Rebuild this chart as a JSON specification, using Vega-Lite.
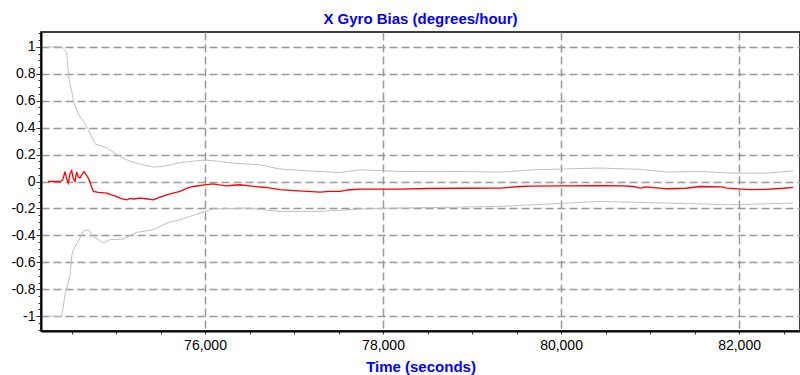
{
  "$schema": "https://vega.github.io/schema/vega-lite/v6.json",
  "width": 759,
  "height": 299,
  "autosize": {"type": "none"},
  "padding": {"left": 41, "top": 32, "right": 0, "bottom": 44},
  "background": "white",
  "title": {
    "text": "X Gyro Bias (degrees/hour)",
    "font": "Liberation Sans",
    "fontSize": 15,
    "fontWeight": "bold",
    "color": "#0000ff",
    "anchor": "middle",
    "baseline": "bottom",
    "offset": -10
  },
  "config": {
    "view": {"stroke": "black", "strokeWidth": 1.5},
    "axis": {
      "labelFont": "Liberation Sans",
      "labelFontSize": 14,
      "labelColor": "black",
      "titleFont": "Liberation Sans",
      "titleFontSize": 15,
      "titleFontWeight": "bold",
      "titleColor": "#0000ff",
      "domainColor": "black",
      "domainWidth": 2,
      "tickColor": "#333333",
      "gridColor": "#999999",
      "gridDash": [8, 4],
      "gridWidth": 1.5
    }
  },
  "data": {
    "values": [
      {"t": 74236, "v": 1.0, "s": "upper"},
      {"t": 74390, "v": 1.0, "s": "upper"},
      {"t": 74427, "v": 0.975, "s": "upper"},
      {"t": 74446, "v": 0.96, "s": "upper"},
      {"t": 74464, "v": 0.8, "s": "upper"},
      {"t": 74483, "v": 0.72, "s": "upper"},
      {"t": 74502, "v": 0.67, "s": "upper"},
      {"t": 74520, "v": 0.6, "s": "upper"},
      {"t": 74558, "v": 0.53, "s": "upper"},
      {"t": 74596, "v": 0.48, "s": "upper"},
      {"t": 74652, "v": 0.43, "s": "upper"},
      {"t": 74708, "v": 0.36, "s": "upper"},
      {"t": 74764, "v": 0.28, "s": "upper"},
      {"t": 74896, "v": 0.25, "s": "upper"},
      {"t": 75045, "v": 0.185, "s": "upper"},
      {"t": 75157, "v": 0.15, "s": "upper"},
      {"t": 75270, "v": 0.13, "s": "upper"},
      {"t": 75419, "v": 0.107, "s": "upper"},
      {"t": 75500, "v": 0.11, "s": "upper"},
      {"t": 75607, "v": 0.124, "s": "upper"},
      {"t": 75719, "v": 0.14, "s": "upper"},
      {"t": 75850, "v": 0.15, "s": "upper"},
      {"t": 76000, "v": 0.16, "s": "upper"},
      {"t": 76150, "v": 0.15, "s": "upper"},
      {"t": 76315, "v": 0.136, "s": "upper"},
      {"t": 76618, "v": 0.124, "s": "upper"},
      {"t": 76843, "v": 0.092, "s": "upper"},
      {"t": 77292, "v": 0.074, "s": "upper"},
      {"t": 77517, "v": 0.067, "s": "upper"},
      {"t": 77742, "v": 0.087, "s": "upper"},
      {"t": 77966, "v": 0.081, "s": "upper"},
      {"t": 78191, "v": 0.074, "s": "upper"},
      {"t": 78700, "v": 0.075, "s": "upper"},
      {"t": 79315, "v": 0.07, "s": "upper"},
      {"t": 79685, "v": 0.087, "s": "upper"},
      {"t": 80438, "v": 0.1, "s": "upper"},
      {"t": 80900, "v": 0.09, "s": "upper"},
      {"t": 81191, "v": 0.07, "s": "upper"},
      {"t": 81562, "v": 0.074, "s": "upper"},
      {"t": 81933, "v": 0.062, "s": "upper"},
      {"t": 82315, "v": 0.062, "s": "upper"},
      {"t": 82607, "v": 0.079, "s": "upper"},
      {"t": 74236, "v": -1.0, "s": "lower"},
      {"t": 74390, "v": -1.0, "s": "lower"},
      {"t": 74427, "v": -0.84, "s": "lower"},
      {"t": 74483, "v": -0.7, "s": "lower"},
      {"t": 74502, "v": -0.556, "s": "lower"},
      {"t": 74520, "v": -0.506, "s": "lower"},
      {"t": 74576, "v": -0.444, "s": "lower"},
      {"t": 74633, "v": -0.37, "s": "lower"},
      {"t": 74689, "v": -0.358, "s": "lower"},
      {"t": 74745, "v": -0.407, "s": "lower"},
      {"t": 74857, "v": -0.456, "s": "lower"},
      {"t": 74933, "v": -0.432, "s": "lower"},
      {"t": 75083, "v": -0.427, "s": "lower"},
      {"t": 75233, "v": -0.378, "s": "lower"},
      {"t": 75419, "v": -0.358, "s": "lower"},
      {"t": 75588, "v": -0.304, "s": "lower"},
      {"t": 75719, "v": -0.284, "s": "lower"},
      {"t": 76000, "v": -0.222, "s": "lower"},
      {"t": 76090, "v": -0.204, "s": "lower"},
      {"t": 76472, "v": -0.197, "s": "lower"},
      {"t": 76843, "v": -0.222, "s": "lower"},
      {"t": 77292, "v": -0.222, "s": "lower"},
      {"t": 77742, "v": -0.204, "s": "lower"},
      {"t": 78191, "v": -0.197, "s": "lower"},
      {"t": 79315, "v": -0.185, "s": "lower"},
      {"t": 80438, "v": -0.148, "s": "lower"},
      {"t": 81191, "v": -0.16, "s": "lower"},
      {"t": 81933, "v": -0.173, "s": "lower"},
      {"t": 82607, "v": -0.16, "s": "lower"},
      {"t": 74236, "v": 0.0, "s": "est"},
      {"t": 74371, "v": 0.0, "s": "est"},
      {"t": 74400, "v": 0.01, "s": "est"},
      {"t": 74427, "v": 0.074, "s": "est"},
      {"t": 74446, "v": 0.02, "s": "est"},
      {"t": 74464, "v": -0.012, "s": "est"},
      {"t": 74483, "v": 0.06, "s": "est"},
      {"t": 74502, "v": 0.081, "s": "est"},
      {"t": 74520, "v": 0.02, "s": "est"},
      {"t": 74539, "v": 0.0, "s": "est"},
      {"t": 74558, "v": 0.07, "s": "est"},
      {"t": 74576, "v": 0.035, "s": "est"},
      {"t": 74596, "v": 0.025, "s": "est"},
      {"t": 74615, "v": 0.05, "s": "est"},
      {"t": 74640, "v": 0.074, "s": "est"},
      {"t": 74665, "v": 0.05, "s": "est"},
      {"t": 74689, "v": 0.025, "s": "est"},
      {"t": 74720, "v": -0.03, "s": "est"},
      {"t": 74745, "v": -0.074, "s": "est"},
      {"t": 74800, "v": -0.08, "s": "est"},
      {"t": 74896, "v": -0.086, "s": "est"},
      {"t": 74950, "v": -0.1, "s": "est"},
      {"t": 75000, "v": -0.11, "s": "est"},
      {"t": 75045, "v": -0.123, "s": "est"},
      {"t": 75083, "v": -0.13, "s": "est"},
      {"t": 75120, "v": -0.136, "s": "est"},
      {"t": 75160, "v": -0.125, "s": "est"},
      {"t": 75200, "v": -0.13, "s": "est"},
      {"t": 75270, "v": -0.123, "s": "est"},
      {"t": 75340, "v": -0.128, "s": "est"},
      {"t": 75419, "v": -0.136, "s": "est"},
      {"t": 75480, "v": -0.12, "s": "est"},
      {"t": 75570, "v": -0.099, "s": "est"},
      {"t": 75650, "v": -0.085, "s": "est"},
      {"t": 75719, "v": -0.074, "s": "est"},
      {"t": 75800, "v": -0.05, "s": "est"},
      {"t": 75869, "v": -0.037, "s": "est"},
      {"t": 76000, "v": -0.025, "s": "est"},
      {"t": 76090, "v": -0.017, "s": "est"},
      {"t": 76160, "v": -0.025, "s": "est"},
      {"t": 76247, "v": -0.032, "s": "est"},
      {"t": 76315, "v": -0.028, "s": "est"},
      {"t": 76393, "v": -0.024, "s": "est"},
      {"t": 76472, "v": -0.03, "s": "est"},
      {"t": 76618, "v": -0.041, "s": "est"},
      {"t": 76700, "v": -0.045, "s": "est"},
      {"t": 76843, "v": -0.061, "s": "est"},
      {"t": 77000, "v": -0.068, "s": "est"},
      {"t": 77292, "v": -0.079, "s": "est"},
      {"t": 77400, "v": -0.074, "s": "est"},
      {"t": 77517, "v": -0.074, "s": "est"},
      {"t": 77600, "v": -0.063, "s": "est"},
      {"t": 77742, "v": -0.056, "s": "est"},
      {"t": 77966, "v": -0.056, "s": "est"},
      {"t": 78191, "v": -0.056, "s": "est"},
      {"t": 78500, "v": -0.052, "s": "est"},
      {"t": 78900, "v": -0.05, "s": "est"},
      {"t": 79315, "v": -0.049, "s": "est"},
      {"t": 79539, "v": -0.037, "s": "est"},
      {"t": 79685, "v": -0.034, "s": "est"},
      {"t": 80000, "v": -0.033, "s": "est"},
      {"t": 80438, "v": -0.03, "s": "est"},
      {"t": 80700, "v": -0.033, "s": "est"},
      {"t": 80809, "v": -0.037, "s": "est"},
      {"t": 80888, "v": -0.049, "s": "est"},
      {"t": 80950, "v": -0.04, "s": "est"},
      {"t": 81191, "v": -0.054, "s": "est"},
      {"t": 81400, "v": -0.05, "s": "est"},
      {"t": 81562, "v": -0.037, "s": "est"},
      {"t": 81800, "v": -0.04, "s": "est"},
      {"t": 81865, "v": -0.049, "s": "est"},
      {"t": 82124, "v": -0.061, "s": "est"},
      {"t": 82300, "v": -0.058, "s": "est"},
      {"t": 82500, "v": -0.05, "s": "est"},
      {"t": 82607, "v": -0.044, "s": "est"}
    ]
  },
  "encoding": {
    "x": {
      "field": "t",
      "type": "quantitative",
      "scale": {"domain": [74157, 82685], "nice": false, "zero": false},
      "axis": {
        "title": "Time (seconds)",
        "titlePadding": 7,
        "values": [74500, 75000, 75500, 76000, 76500, 77000, 77500, 78000, 78500, 79000, 79500, 80000, 80500, 81000, 81500, 82000, 82500],
        "labelExpr": "datum.value % 2000 === 0 ? format(datum.value, ',') : ''",
        "tickSize": 3,
        "labelPadding": 4,
        "gridOpacity": {"condition": {"test": "datum.value % 2000 === 0", "value": 1}, "value": 0}
      }
    },
    "y": {
      "field": "v",
      "type": "quantitative",
      "scale": {"domain": [-1.11, 1.11], "nice": false, "zero": false},
      "axis": {
        "title": null,
        "values": [-1.1, -1.05, -1.0, -0.95, -0.9, -0.85, -0.8, -0.75, -0.7, -0.65, -0.6, -0.55, -0.5, -0.45, -0.4, -0.35, -0.3, -0.25, -0.2, -0.15, -0.1, -0.05, 0, 0.05, 0.1, 0.15, 0.2, 0.25, 0.3, 0.35, 0.4, 0.45, 0.5, 0.55, 0.6, 0.65, 0.7, 0.75, 0.8, 0.85, 0.9, 0.95, 1.0, 1.05, 1.1],
        "labelExpr": "(abs(datum.value*5 - round(datum.value*5)) < 0.001 && abs(datum.value) <= 1.0001) ? toString(round(datum.value*10)/10) : ''",
        "tickSize": {"condition": {"test": "abs(datum.value*5 - round(datum.value*5)) < 0.001", "value": 5}, "value": 3},
        "labelPadding": 1,
        "gridOpacity": {"condition": {"test": "abs(datum.value*5 - round(datum.value*5)) < 0.001 && abs(datum.value) <= 1.0001", "value": 1}, "value": 0}
      }
    }
  },
  "layer": [
    {
      "transform": [{"filter": "datum.s !== 'est'"}],
      "mark": {"type": "line", "strokeWidth": 1, "color": "#c0c0c0"},
      "encoding": {"detail": {"field": "s"}}
    },
    {
      "transform": [{"filter": "datum.s === 'est'"}],
      "mark": {"type": "line", "strokeWidth": 1.3, "color": "#ff0000"}
    }
  ]
}
